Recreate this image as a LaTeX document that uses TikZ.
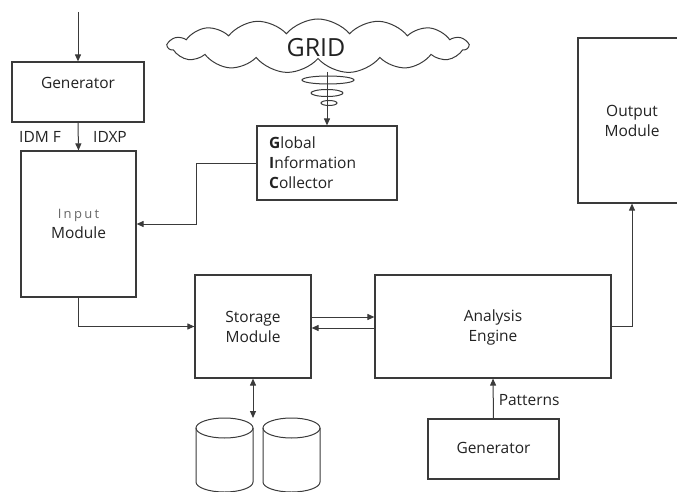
\documentclass[tikz,border=0pt]{standalone}
\usepackage{fontspec}
\setmainfont{Open Sans}
\usetikzlibrary{arrows.meta,shapes.symbols}
\definecolor{ink}{HTML}{3A3A3A}
\definecolor{tink}{HTML}{222222}
\begin{document}
\begin{tikzpicture}[x=1pt,y=-1pt,
  box/.style={draw=ink, line width=1.2pt, inner sep=0pt},
  arr/.style={-{Triangle[length=7pt,width=6pt]}, draw=ink, line width=1pt},
  dbl/.style={{Triangle[length=7pt,width=6pt]}-{Triangle[length=7pt,width=6pt]}, draw=ink, line width=1pt},
  conn/.style={draw=ink, line width=1pt},
  txt/.style={font=\fontsize{15.5}{20}\selectfont, text=tink, align=center, inner sep=0pt},
  lbl/.style={font=\fontsize{15.5}{20}\selectfont, text=tink, inner sep=0pt}]
\useasboundingbox (0,0) rectangle (677,492);

% boxes
\node[box, minimum width=132pt, minimum height=60pt] (gen) at (78,92) {};
\node[txt] (gentxt) at (78,83) {Generator};
\node[box, minimum width=115pt, minimum height=146pt] (input) at (78.5,224) {};
\node[txt] (inputtxt) at (78.5,224) {{\fontsize{13}{20}\selectfont\addfontfeatures{LetterSpace=18}\color{black!60}Input}\\Module};
\node[box, minimum width=140pt, minimum height=74pt] (gic) at (327,163) {};
\node[lbl, anchor=west, align=left] (gictxt) at (269,163) {\textbf{G}lobal\\\textbf{I}nformation\\\textbf{C}ollector};
\node[box, minimum width=116pt, minimum height=103pt] (storage) at (253,326.5) {};
\node[txt] (storagetxt) at (253,327) {Storage\\Module};
\node[box, minimum width=236pt, minimum height=103pt] (analysis) at (493,326.5) {};
\node[txt] (analysistxt) at (493,327) {Analysis\\Engine};
\node[box, minimum width=131pt, minimum height=60pt] (gen2) at (493.5,449) {};
\node[txt] (gen2txt) at (493.5,448) {Generator};
\node[box, minimum width=108pt, minimum height=165pt] (output) at (632,120.5) {};
\node[txt] (outputtxt) at (632,121) {Output\\Module};

% cloud
\node[cloud, draw=ink, line width=1pt, cloud puffs=15, cloud puff arc=100, aspect=5.5,
      minimum width=300pt, minimum height=54pt, inner sep=0pt] (grid) at (318,46) {};
\node[lbl, font=\fontsize{25}{30}\selectfont] (gridtxt) at (316,48) {GRID};

% coils
\draw[conn] (328,80) ellipse [x radius=26, y radius=4];
\draw[conn] (327,93) ellipse [x radius=16, y radius=3.5];
\draw[conn] (329,103) ellipse [x radius=8, y radius=2.5];

% cylinders
\foreach \cx in {224.5,291.5}{
  \draw[conn] (\cx,428) ellipse [x radius=28.5, y radius=10];
  \draw[conn] (\cx-28.5,428) -- (\cx-28.5,482) arc[start angle=180, end angle=0, x radius=28.5, y radius=10] -- (\cx+28.5,428);
}

% connectors
\coordinate (topin) at (78,12);
\draw[arr] (topin) -- (gen.north);
\draw[arr] (gen.south) -- (input.north);
\node[lbl] (idmf) at (40,137) {IDM F};
\node[lbl] (idxp) at (110,137) {IDXP};
\draw[arr] (gic.west) -- (196,163) |- (input.east);
\draw[arr] (input.south) |- (storage.west);
\draw[arr] (storage.east |- 0,317) -- (analysis.west |- 0,317);
\draw[arr] (analysis.west |- 0,328) -- (storage.east |- 0,328);
\coordinate (disks) at (253,418);
\draw[dbl] (storage.south) -- (disks);
\draw[arr] (gen2.north) -- node[lbl, right=5pt, pos=0.45] (pat) {Patterns} (analysis.south);
\draw[arr] (analysis.east) -| (output.south);
\coordinate (cloudbot) at (327,72);
\draw[arr] (cloudbot) -- (gic.north);
\end{tikzpicture}
\end{document}
